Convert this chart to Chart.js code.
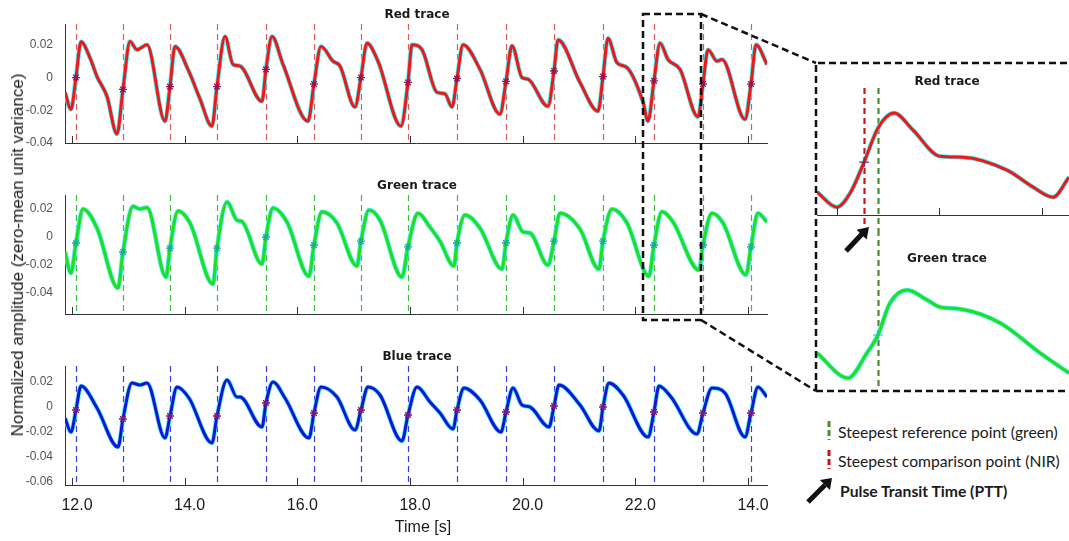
<!DOCTYPE html>
<html>
<head>
<meta charset="utf-8">
<title>Pulse transit time traces</title>
<script src="https://cdn.jsdelivr.net/npm/chart.js"></script>
<style>
body { margin: 0; background: #fff; }
#figure { position: relative; width: 1069px; height: 541px; overflow: hidden; background: #fff; font-family: 'Liberation Sans', Arial, sans-serif; }
#figure canvas { position: absolute; }
.panel-title { position: absolute; font: bold 12px 'DejaVu Sans', sans-serif; color: #1a1a1a; transform: translate(-50%, -50%); white-space: nowrap; }
.axis-label { position: absolute; font-size: 16px; color: #1a1a1a; white-space: nowrap; transform: translate(-50%, -50%); }
#y-label { font-size: 17px; transform: translate(-50%, -50%) rotate(-90deg); }
.legend-item { position: absolute; left: 838px; font: 15.7px Lato, 'Open Sans', sans-serif; color: #1a1a1a; transform: translateY(-50%); white-space: nowrap; }
.legend-item.bold { font-weight: bold; left: 840px; }
#overlay { position: absolute; left: 0; top: 0; }
</style>
</head>
<body>
<div id="figure">
    <canvas id="red-chart" width="780" height="160" style="left:0;top:0"></canvas>
    <canvas id="green-chart" width="780" height="170" style="left:0;top:160px"></canvas>
    <canvas id="blue-chart" width="780" height="211" style="left:0;top:330px"></canvas>
    <canvas id="zoom-red-chart" width="253" height="166" style="left:816px;top:64px"></canvas>
    <canvas id="zoom-green-chart" width="253" height="160" style="left:816px;top:230px"></canvas>

    <div class="panel-title" style="left:417px;top:14px">Red trace</div>
    <div class="panel-title" style="left:417px;top:185px">Green trace</div>
    <div class="panel-title" style="left:417px;top:356px">Blue trace</div>
    <div class="panel-title" style="left:947px;top:81px">Red trace</div>
    <div class="panel-title" style="left:947px;top:258px">Green trace</div>

    <div class="axis-label" id="y-label" style="left:18px;top:255px">Normalized amplitude (zero-mean unit variance)</div>
    <div class="axis-label" style="left:423px;top:527px">Time [s]</div>

    <div class="legend-item" style="top:432px">Steepest reference point (green)</div>
    <div class="legend-item" style="top:461px">Steepest comparison point (NIR)</div>
    <div class="legend-item bold" style="top:491px">Pulse Transit Time (PTT)</div>

    <svg id="overlay" width="1069" height="541">
        <g fill="none" stroke="#111" stroke-width="2.5" stroke-dasharray="7 4">
            <rect x="643" y="14" width="58" height="306"/>
            <path d="M701 14 L816 63 M701 320 L816 391"/>
            <path d="M816 391 L816 63 L1069 63 M816 391 L1069 391"/>
        </g>
        <!-- PTT arrow in the zoomed view -->
        <line x1="846" y1="251" x2="862" y2="234" stroke="#111" stroke-width="5"/>
        <polygon points="869,227 866.6,239.4 856.6,229.8" fill="#111"/>
        <!-- legend marks -->
        <line x1="829" y1="421" x2="829" y2="440" stroke="#4e8a2e" stroke-width="3" stroke-dasharray="6 3"/>
        <line x1="829" y1="450" x2="829" y2="469" stroke="#c8141e" stroke-width="3" stroke-dasharray="6 3"/>
        <line x1="808" y1="502" x2="825" y2="485" stroke="#111" stroke-width="5"/>
        <polygon points="832,478 829.9,490.1 819.9,480.1" fill="#111"/>
    </svg>
</div>

<script>
// Time axis (s), shared by the three traces
const timeRange = [11.876, 24.338];
const timeTicks = [12, 14, 16, 18, 20, 22, 24];
const timeTickLabels = ['12.0', '14.0', '16.0', '18.0', '20.0', '22.0', '14.0'];

// Beat onsets (dashed lines) and the steepest-point markers on each trace
const beatTimes = [12.071, 12.905, 13.740, 14.574, 15.444, 16.296, 17.130, 17.965, 18.835, 19.705, 20.557, 21.427, 22.332, 23.202, 24.054];
const redMarks = [0, -0.0073, -0.0055, -0.0055, 0.005, -0.004, 0, -0.003, -0.0006, -0.0024, 0.004, 0.0006, -0.002, -0.004, -0.004];
const greenMarks = [-0.0043, -0.0107, -0.008, -0.008, 0, -0.0057, -0.003, -0.007, -0.0043, -0.0043, -0.003, -0.003, -0.0057, -0.0057, -0.007];
const blueMarks = [-0.0024, -0.0096, -0.0072, -0.0072, 0.0032, -0.0048, -0.0024, -0.0064, -0.0024, -0.004, 0.0008, 0, -0.004, -0.0048, -0.0048];

// Red trace
const redTime = [11.876, 11.982, 12.071, 12.160, 12.320, 12.444, 12.621, 12.799, 12.905, 13.030, 13.154, 13.331, 13.651, 13.740, 13.829, 14.059, 14.272, 14.485, 14.574, 14.716, 14.858, 14.982, 15.373, 15.444, 15.551, 15.746, 16.190, 16.296, 16.420, 16.633, 16.758, 17.024, 17.130, 17.237, 17.432, 17.841, 17.965, 18.036, 18.213, 18.480, 18.622, 18.746, 18.835, 18.941, 19.243, 19.598, 19.705, 19.811, 19.989, 20.095, 20.450, 20.557, 20.628, 21.018, 21.338, 21.427, 21.515, 21.675, 21.853, 22.137, 22.226, 22.332, 22.439, 22.581, 22.794, 23.113, 23.202, 23.291, 23.451, 23.539, 23.948, 24.054, 24.143, 24.338];
const redAmp = [-0.009, -0.0194, 0, 0.0218, 0.012, 0.0006, -0.0115, -0.0345, -0.0073, 0.022, 0.017, 0.020, -0.0267, -0.0055, 0.019, 0.005, -0.013, -0.0297, -0.0055, 0.025, 0.008, 0.007, -0.0145, 0.005, 0.025, 0.008, -0.0267, -0.004, 0.019, 0.010, 0.007, -0.018, 0, 0.021, 0.010, -0.0297, -0.003, 0.020, 0.017, -0.009, -0.010, -0.018, -0.0006, 0.020, 0.005, -0.0224, -0.0024, 0.0194, 0, -0.001, -0.0176, 0.004, 0.023, -0.003, -0.0206, 0.0006, 0.024, 0.009, 0.006, -0.015, -0.0267, -0.002, 0.021, 0.011, 0.005, -0.024, -0.004, 0.017, 0.010, 0.011, -0.0255, -0.004, 0.020, 0.008];

// Green trace
const greenTime = [11.876, 11.982, 12.071, 12.195, 12.444, 12.817, 12.905, 13.083, 13.207, 13.331, 13.669, 13.740, 13.882, 14.095, 14.503, 14.574, 14.752, 14.929, 15.018, 15.373, 15.444, 15.568, 15.817, 16.207, 16.296, 16.438, 16.704, 17.059, 17.130, 17.273, 17.468, 17.858, 17.965, 18.142, 18.355, 18.533, 18.781, 18.835, 18.977, 19.243, 19.634, 19.705, 19.829, 20.006, 20.131, 20.450, 20.557, 20.663, 21.018, 21.355, 21.427, 21.586, 21.853, 22.243, 22.332, 22.474, 22.670, 23.131, 23.202, 23.362, 23.557, 23.965, 24.054, 24.178, 24.338];
const greenAmp = [-0.0107, -0.0257, -0.0043, 0.020, 0.0064, -0.0364, -0.0107, 0.022, 0.020, 0.021, -0.0286, -0.008, 0.0186, 0.010, -0.0336, -0.008, 0.025, 0.012, 0.011, -0.0193, 0, 0.0207, 0.0107, -0.028, -0.0057, 0.018, 0.010, -0.0207, -0.003, 0.0193, 0.012, -0.0286, -0.007, 0.017, 0.007, -0.003, -0.0207, -0.0043, 0.0157, 0.0064, -0.0229, -0.0043, 0.0157, 0.0036, 0.0029, -0.020, -0.003, 0.017, 0.0057, -0.0229, -0.003, 0.020, 0.010, -0.028, -0.0057, 0.018, 0.0107, -0.0236, -0.0057, 0.017, 0.010, -0.027, -0.007, 0.017, 0.0107];

// Blue trace
const blueTime = [11.876, 11.982, 12.071, 12.160, 12.444, 12.817, 12.905, 13.065, 13.207, 13.331, 13.651, 13.740, 13.864, 14.077, 14.485, 14.574, 14.752, 14.929, 14.982, 15.373, 15.444, 15.568, 15.781, 16.207, 16.296, 16.420, 16.704, 17.024, 17.130, 17.255, 17.468, 17.858, 17.965, 18.125, 18.355, 18.533, 18.764, 18.835, 18.959, 19.243, 19.616, 19.705, 19.829, 19.989, 20.131, 20.468, 20.557, 20.646, 21.018, 21.355, 21.427, 21.533, 21.782, 22.226, 22.332, 22.421, 22.634, 23.095, 23.202, 23.362, 23.593, 23.948, 24.054, 24.178, 24.338];
const blueAmp = [-0.0088, -0.020, -0.0024, 0.0168, -0.0008, -0.032, -0.0096, 0.0192, 0.0176, 0.0192, -0.0248, -0.0072, 0.016, 0.0072, -0.0288, -0.0072, 0.0216, 0.008, 0.008, -0.016, 0.0032, 0.020, 0.0072, -0.0248, -0.0048, 0.016, 0.008, -0.0184, -0.0024, 0.016, 0.0096, -0.0272, -0.0064, 0.016, 0.004, -0.0048, -0.0176, -0.0024, 0.0152, 0.0056, -0.020, -0.004, 0.0152, 0.0016, 0, -0.016, 0.0008, 0.0176, 0.0016, -0.0192, 0, 0.0192, 0.0096, -0.024, -0.004, 0.0168, 0.008, -0.0216, -0.0048, 0.0152, 0.0112, -0.024, -0.0048, 0.016, 0.008];

// Zoomed beat (right-hand inset)
const zoomRange = [22.122, 23.106];
const zoomTicks = [22.2, 22.6, 23.0];
const zoomNirTime = 22.306;   // steepest comparison point (NIR)
const zoomRefTime = 22.360;   // steepest reference point (green)
const zoomRedMark = -0.004;
const zoomGreenMark = -0.0055;
const zoomRedTime = [22.122, 22.200, 22.251, 22.306, 22.360, 22.423, 22.497, 22.602, 22.692, 22.864, 22.966, 23.044, 23.106];
const zoomRedAmp = [-0.0193, -0.027, -0.0199, -0.004, 0.0133, 0.021, 0.0123, -0.001, -0.0015, -0.0081, -0.0168, -0.0219, -0.0117];
const zoomGreenTime = [22.122, 22.243, 22.317, 22.360, 22.407, 22.474, 22.552, 22.602, 22.681, 22.837, 22.993, 23.106];
const zoomGreenAmp = [-0.0149, -0.028, -0.0149, -0.0055, 0.0112, 0.018, 0.0128, 0.0091, 0.0081, 0.0008, -0.0149, -0.0254];

const HALO = '#48eef6';
const AXIS = '#333333';
const pts = (xs, ys) => xs.map((x, i) => ({ x, y: ys[i] }));

// Dashed vertical marker lines, drawn under the traces
function dashedMarkers(lines) {
    return {
        id: 'dashedMarkers',
        beforeDatasetsDraw(chart) {
            const { ctx, chartArea, scales } = chart;
            lines.forEach(line => {
                const px = Math.round(scales.x.getPixelForValue(line.t)) + 0.5;
                const top = line.topEdge ? 0 : chartArea.top;
                const bottom = line.bottomEdge ? chart.height : chartArea.bottom + (line.extra || 0);
                ctx.save();
                ctx.strokeStyle = line.color;
                ctx.lineWidth = line.width || 1.2;
                ctx.setLineDash(line.dash || [6, 4]);
                ctx.beginPath();
                ctx.moveTo(px, top);
                ctx.lineTo(px, bottom);
                ctx.stroke();
                ctx.restore();
            });
        }
    };
}

// MATLAB style tick marks pointing into the axes
const inwardTicks = {
    id: 'inwardTicks',
    afterDatasetsDraw(chart) {
        const { ctx, chartArea, scales } = chart;
        if (!scales.x.options.display) return;
        ctx.save();
        ctx.strokeStyle = AXIS;
        ctx.lineWidth = 1;
        scales.x.ticks.forEach(tick => {
            const px = Math.round(scales.x.getPixelForValue(tick.value)) + 0.5;
            ctx.beginPath();
            ctx.moveTo(px, chartArea.bottom);
            ctx.lineTo(px, chartArea.bottom - 7);
            ctx.stroke();
        });
        ctx.restore();
    }
};

function traceDatasets(time, amp, color, width) {
    return [
        { data: pts(time, amp), borderColor: color, borderWidth: width, pointRadius: 0, cubicInterpolationMode: 'monotone' },
        { data: pts(time, amp), borderColor: HALO, borderWidth: width + 1.6, pointRadius: 0, cubicInterpolationMode: 'monotone' }
    ];
}

function buildTrace(canvasId, cfg) {
    const lines = beatTimes.map(t => ({ t, color: cfg.dashColor }));
    return new Chart(document.getElementById(canvasId), {
        type: 'line',
        data: {
            datasets: [
                {
                    data: pts(beatTimes, cfg.marks),
                    showLine: false,
                    pointStyle: 'star',
                    pointRadius: 4,
                    pointBorderWidth: 1.3,
                    pointBorderColor: cfg.markColor,
                    pointBackgroundColor: cfg.markColor
                },
                ...traceDatasets(cfg.time, cfg.amp, cfg.color, 3)
            ]
        },
        options: {
            responsive: false,
            animation: false,
            devicePixelRatio: 1,
            layout: { autoPadding: false, padding: { top: cfg.padTop, right: 13, left: 0, bottom: 0 } },
            plugins: { legend: { display: false }, tooltip: { enabled: false } },
            scales: {
                x: {
                    type: 'linear',
                    min: timeRange[0],
                    max: timeRange[1],
                    grid: { display: false },
                    border: { color: AXIS, width: 1 },
                    afterBuildTicks: s => { s.ticks = timeTicks.map(v => ({ value: v })); },
                    afterFit: s => { s.height = cfg.axisHeight; },
                    ticks: {
                        display: cfg.showTime,
                        autoSkip: false,
                        maxRotation: 0,
                        padding: 3,
                        labelOffset: 5,
                        color: '#1a1a1a',
                        font: { family: "'Liberation Sans', Arial, sans-serif", size: 16 },
                        callback: value => {
                            const i = timeTicks.findIndex(t => Math.abs(t - value) < 1e-6);
                            return i >= 0 ? timeTickLabels[i] : '';
                        }
                    }
                },
                y: {
                    min: cfg.range[0],
                    max: cfg.range[1],
                    grid: { display: false },
                    border: { color: AXIS, width: 1 },
                    afterFit: s => { s.width = 65; },
                    ticks: {
                        stepSize: 0.02,
                        includeBounds: false,
                        padding: 4,
                        color: '#555555',
                        font: { family: "'Liberation Sans', Arial, sans-serif", size: 12 },
                        callback: v => Math.abs(v) < 1e-9 ? '0' : v.toFixed(2)
                    }
                }
            }
        },
        plugins: [dashedMarkers(lines), inwardTicks]
    });
}

function buildZoom(canvasId, cfg) {
    return new Chart(document.getElementById(canvasId), {
        type: 'line',
        data: {
            datasets: [
                {
                    data: [cfg.mark],
                    showLine: false,
                    pointStyle: 'cross',
                    pointRadius: 5,
                    pointBorderWidth: 1.2,
                    pointBorderColor: cfg.markColor
                },
                ...traceDatasets(cfg.time, cfg.amp, cfg.color, 3)
            ]
        },
        options: {
            responsive: false,
            animation: false,
            devicePixelRatio: 1,
            layout: { autoPadding: false, padding: cfg.padding },
            plugins: { legend: { display: false }, tooltip: { enabled: false } },
            scales: {
                x: {
                    type: 'linear',
                    display: cfg.showAxis,
                    min: zoomRange[0],
                    max: zoomRange[1],
                    grid: { display: false },
                    border: { color: AXIS, width: 1 },
                    afterBuildTicks: s => { s.ticks = zoomTicks.map(v => ({ value: v })); },
                    afterFit: s => { s.height = cfg.showAxis ? 15 : 0; },
                    ticks: { display: false }
                },
                y: { display: false, min: cfg.range[0], max: cfg.range[1] }
            }
        },
        plugins: [dashedMarkers(cfg.lines), inwardTicks]
    });
}

document.addEventListener('DOMContentLoaded', () => {
    buildTrace('red-chart', {
        time: redTime, amp: redAmp, marks: redMarks, range: [-0.04, 0.0327],
        color: '#f21616', dashColor: '#de5a5e', markColor: '#9a1250',
        padTop: 24, axisHeight: 17, showTime: false
    });
    buildTrace('green-chart', {
        time: greenTime, amp: greenAmp, marks: greenMarks, range: [-0.055, 0.03],
        color: '#1ee01e', dashColor: '#3cbf3c', markColor: '#17b08a',
        padTop: 35, axisHeight: 16, showTime: false
    });
    buildTrace('blue-chart', {
        time: blueTime, amp: blueAmp, marks: blueMarks, range: [-0.0624, 0.0328],
        color: '#1414d4', dashColor: '#3c3cdc', markColor: '#7a1a7a',
        padTop: 36, axisHeight: 56, showTime: true
    });

    buildZoom('zoom-red-chart', {
        time: zoomRedTime, amp: zoomRedAmp, range: [-0.031, 0.0338],
        mark: { x: zoomNirTime, y: zoomRedMark }, markColor: '#8a2040',
        color: '#f21616', showAxis: true,
        padding: { top: 24, left: 1, right: 0, bottom: 0 },
        lines: [
            { t: zoomNirTime, color: '#c8141e', width: 2.2, extra: 10 },
            { t: zoomRefTime, color: '#4e8a2e', width: 2.2, bottomEdge: true }
        ]
    });
    buildZoom('zoom-green-chart', {
        time: zoomGreenTime, amp: zoomGreenAmp, range: [-0.0332, 0.0285],
        mark: { x: zoomRefTime, y: zoomGreenMark }, markColor: '#20c0a0',
        color: '#1ee01e', showAxis: false,
        padding: { top: 40, left: 1, right: 0, bottom: 2 },
        lines: [
            { t: zoomRefTime, color: '#4e8a2e', width: 2.2, topEdge: true }
        ]
    });
});
</script>
</body>
</html>
